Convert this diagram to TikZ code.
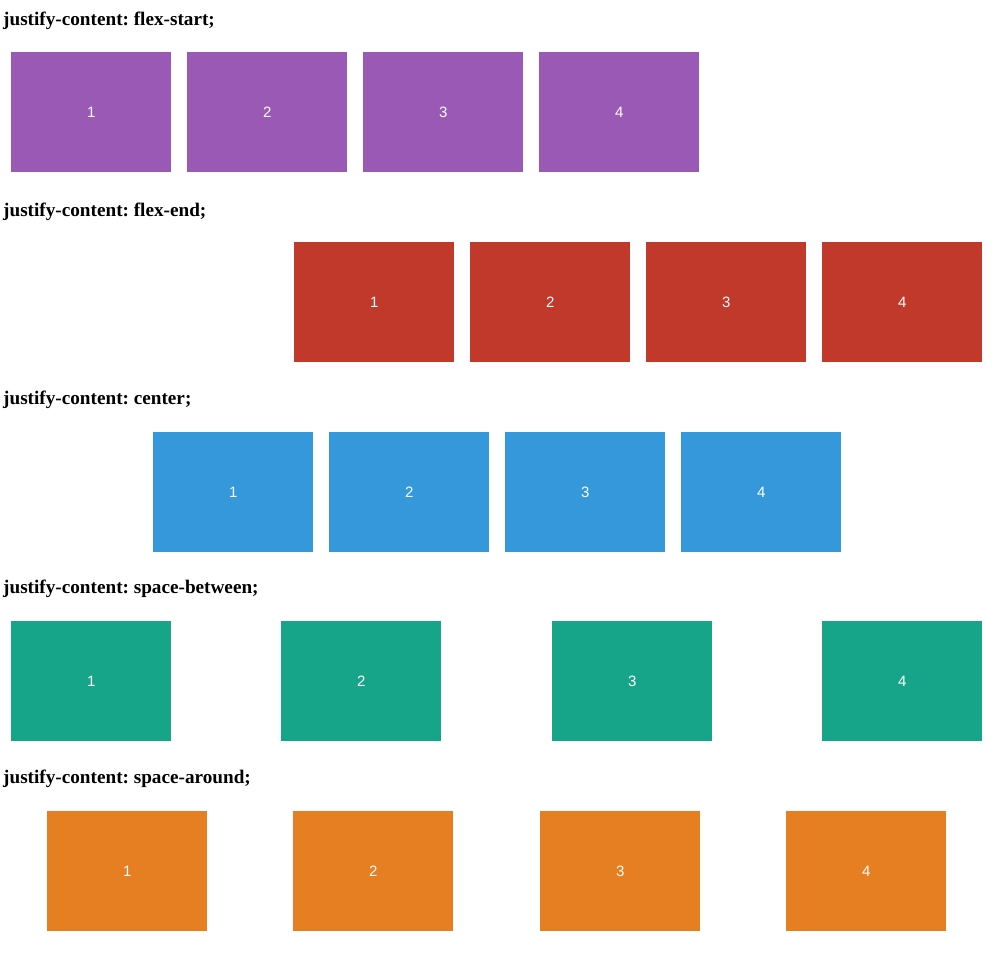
\documentclass[tikz,border=0pt]{standalone}
\usepackage{fontspec}
\setmainfont{Liberation Serif}
\newfontfamily\numfont{Liberation Sans}
\definecolor{cpurple}{HTML}{9B59B6}
\definecolor{cred}{HTML}{C0392B}
\definecolor{cblue}{HTML}{3498DB}
\definecolor{cgreen}{HTML}{17A589}
\definecolor{corange}{HTML}{E67E22}
\frenchspacing
\begin{document}
\begin{tikzpicture}[x=1pt,y=-1pt,
  flexbox/.style={minimum width=160pt,minimum height=120pt,inner sep=0pt,anchor=north west,
    text=white,font=\numfont\fontsize{15}{17}\selectfont},
  heading/.style={anchor=base west,inner sep=0pt,font=\bfseries\fontsize{19.2}{22}\selectfont}]
\useasboundingbox (0,0) rectangle (992,952);
% row 1
\node[heading] (h1) at (3,26) {justify-content: flex-start;};
\foreach \x [count=\i] in {11,187,363,539}
  \node[flexbox,fill=cpurple] (a\i) at (\x,52) {\i};
% row 2
\node[heading] (h2) at (3,216) {justify-content: flex-end;};
\foreach \x [count=\i] in {294,470,646,822}
  \node[flexbox,fill=cred] (b\i) at (\x,242) {\i};
% row 3
\node[heading] (h3) at (3,404) {justify-content: center;};
\foreach \x [count=\i] in {153,329,505,681}
  \node[flexbox,fill=cblue] (c\i) at (\x,432) {\i};
% row 4
\node[heading] (h4) at (3,593) {justify-content: space-between;};
\foreach \x [count=\i] in {11,281,552,822}
  \node[flexbox,fill=cgreen] (d\i) at (\x,621) {\i};
% row 5
\node[heading] (h5) at (3,783) {justify-content: space-around;};
\foreach \x [count=\i] in {47,293,540,786}
  \node[flexbox,fill=corange] (e\i) at (\x,811) {\i};
\end{tikzpicture}
\end{document}
